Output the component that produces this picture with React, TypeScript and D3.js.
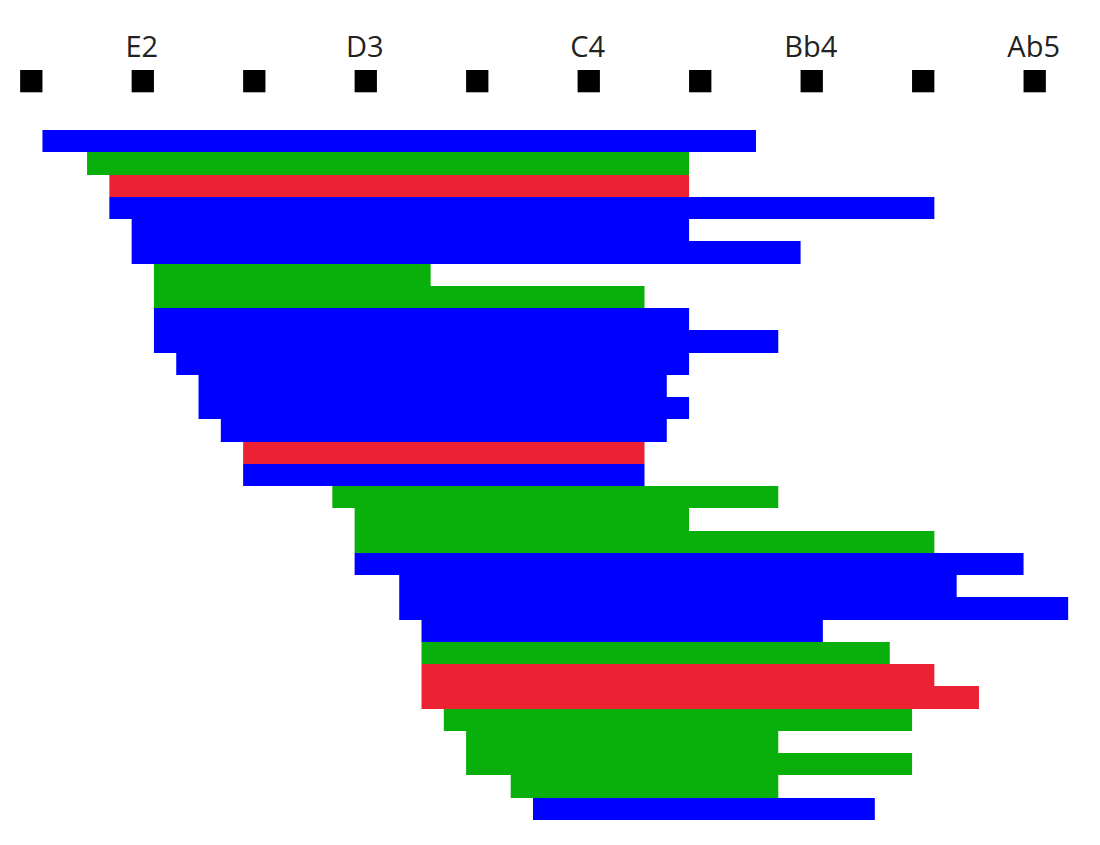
import React from "react";
import * as d3 from "d3";

// Tick positions (MIDI numbers) and their labels
const tickNotes = [35, 40, 45, 50, 55, 60, 65, 70, 75, 80];
const tickLabels = ["", "E2", "", "D3", "", "C4", "", "Bb4", "", "Ab5"];

// Range bars: lowest and highest note (MIDI) and group
const lowNotes = [36, 38, 39, 39, 40, 40, 41, 41, 41, 41, 42, 43, 43, 44, 45, 45, 49, 50, 50, 50, 52, 52, 53, 53, 53, 53, 54, 55, 55, 57, 58];
const highNotes = [67, 64, 64, 75, 64, 69, 52.41, 62, 64, 68, 64, 63, 64, 63, 62, 62, 68, 64, 75, 79, 76, 81, 70, 73, 75, 77, 74, 68, 74, 68, 72.33];
const groups = ["b", "g", "r", "b", "b", "b", "g", "g", "b", "b", "b", "b", "b", "b", "r", "b", "g", "g", "g", "b", "b", "b", "b", "g", "r", "r", "g", "g", "g", "g", "b"];
const groupKeys = ["b", "g", "r"];
const groupColors = ["#0000ff", "#09b00b", "#ec2234"];

const W = 1100;
const H = 845;

export default function App() {
  const x = d3.scaleLinear().domain([35, 80]).range([31.3, 1034.7]);
  const unit = x(36) - x(35);
  const rows = d3.range(lowNotes.length);
  const y = d3.scaleBand<number>().domain(rows).range([130, 820]).padding(0);
  const color = d3.scaleOrdinal<string, string>().domain(groupKeys).range(groupColors);

  return (
    <svg
      width={W}
      height={H}
      style={{ position: "absolute", left: 0, top: 0, background: "#fff" }}
    >
      <g>
        {tickNotes.map((n, i) => (
          <g key={n}>
            <rect
              x={x(n) - unit / 2}
              y={70}
              width={unit}
              height={unit}
              fill="#000"
            />
            {tickLabels[i] && (
              <text
                x={x(n) - 1}
                y={57}
                textAnchor="middle"
                fontFamily="'Open Sans', sans-serif"
                fontSize={29}
                fill="#222"
              >
                {tickLabels[i]}
              </text>
            )}
          </g>
        ))}
      </g>
      <g>
        {rows.map((i) => {
          const y0 = Math.round(y(i) as number);
          const y1 = Math.round((y(i) as number) + y.bandwidth());
          return (
            <rect
              key={i}
              x={x(lowNotes[i] - 0.5)}
              y={y0}
              width={x(highNotes[i] + 0.5) - x(lowNotes[i] - 0.5)}
              height={y1 - y0}
              fill={color(groups[i])}
            />
          );
        })}
      </g>
    </svg>
  );
}
